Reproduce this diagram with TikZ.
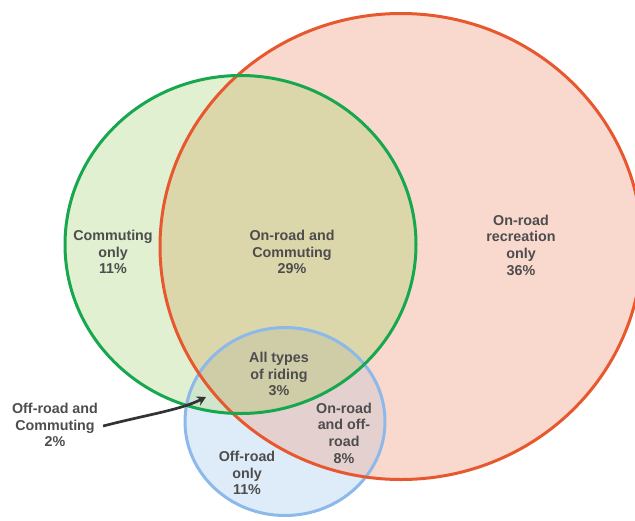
\documentclass[tikz,border=0pt]{standalone}
\usepackage{fontspec}
\setmainfont{Liberation Sans}
\usetikzlibrary{arrows.meta}
\definecolor{gstroke}{HTML}{17A84F}
\definecolor{rstroke}{HTML}{E8582E}
\definecolor{bstroke}{HTML}{8DB9EA}
\definecolor{gfill}{HTML}{E0F0D1}
\definecolor{rfill}{HTML}{F9D9CE}
\definecolor{bfill}{HTML}{DEEBF9}
\definecolor{grfill}{HTML}{DCD6AB}
\definecolor{rbfill}{HTML}{E5D0D0}
\definecolor{gbfill}{HTML}{CFE6CC}
\definecolor{allfill}{HTML}{CFCCA8}
\definecolor{txt}{HTML}{4D4D4D}
\tikzset{
  lbl/.style={font=\bfseries\fontsize{14.3}{16.6}\selectfont, text=txt, align=center, inner sep=0pt},
  ring/.style={line width=3pt}
}
\def\gpath{(240.5,244.5) ellipse[x radius=175.5pt, y radius=169pt]}
\def\rpath{(401,246.5) ellipse[x radius=241pt, y radius=233pt]}
\def\bpath{(285,421.5) ellipse[x radius=100pt, y radius=94pt]}
\begin{document}
\begin{tikzpicture}[x=1pt,y=-1pt]
\useasboundingbox (0,0) rectangle (635,520);
\begin{scope}
\clip (0,0) rectangle (635,520);
% base fills
\fill[rfill] \rpath;
\fill[gfill] \gpath;
\fill[bfill] \bpath;
\begin{scope}\clip \gpath; \fill[grfill] \rpath; \end{scope}
\begin{scope}\clip \rpath; \fill[rbfill] \bpath; \end{scope}
\begin{scope}\clip \gpath; \fill[gbfill] \bpath; \end{scope}
\begin{scope}\clip \gpath; \clip \rpath; \fill[allfill] \bpath; \end{scope}
% strokes
\draw[ring, bstroke] \bpath;
\draw[ring, rstroke] \rpath;
\draw[ring, gstroke] \gpath;
\end{scope}
% labels
\node[lbl] (comm) at (113,252) {Commuting\\only\\11\%};
\node[lbl] (oncomm) at (292,252) {On-road and\\Commuting\\29\%};
\node[lbl] (onrec) at (521,245) {On-road\\recreation\\only\\36\%};
\node[lbl] (all) at (279,374) {All types\\of riding\\3\%};
\node[lbl] (onoff) at (344,433) {On-road\\and off-\\road\\8\%};
\node[lbl] (off) at (247,473) {Off-road\\only\\11\%};
\node[lbl] (offcomm) at (55,425) {Off-road and\\Commuting\\2\%};
\coordinate (tip) at (206,397);
\draw[line width=2.7pt, draw=black!80, -{Stealth[length=9pt,width=10pt]}]
  ([xshift=5pt,yshift=-1pt]offcomm.east) .. controls (150,414) and (180,410) .. (tip);
\end{tikzpicture}
\end{document}
